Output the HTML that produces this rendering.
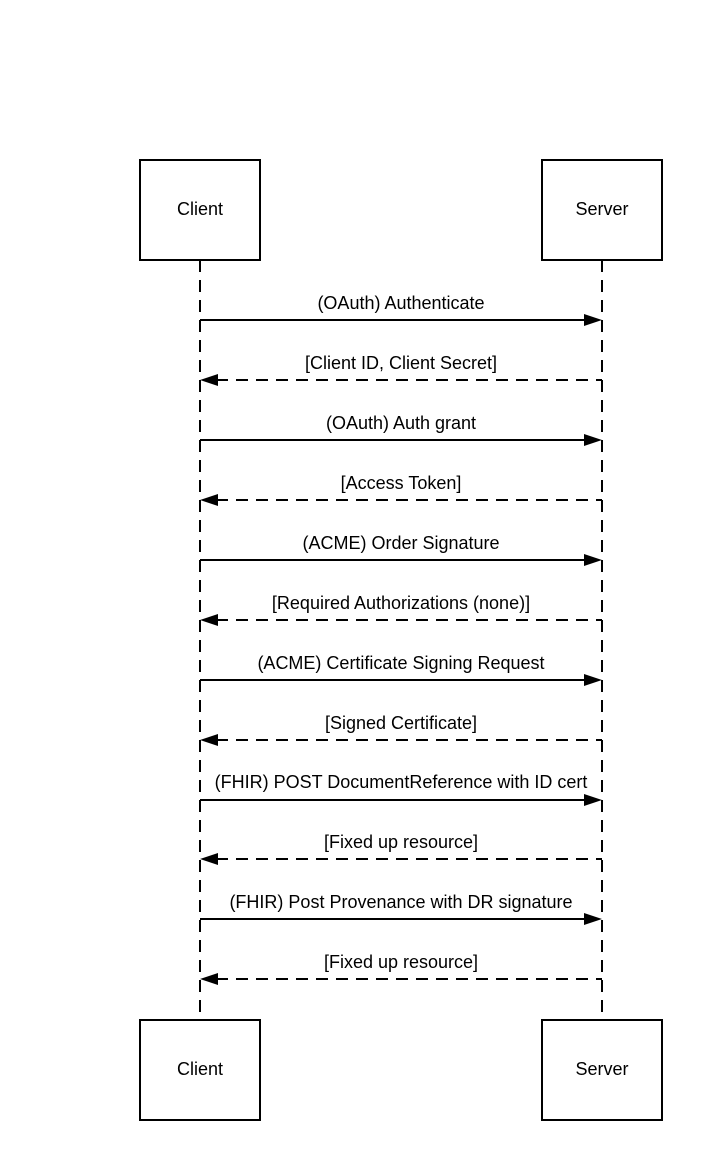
<!DOCTYPE html>
<html><head><style>body{margin:0;background:#fff}</style></head><body>
<svg width="702" height="1160" xmlns="http://www.w3.org/2000/svg" font-family="Liberation Sans, sans-serif" font-size="18">
<rect width="702" height="1160" fill="#fff"/>
<g stroke="#000" stroke-width="2" fill="#fff">
<line x1="200" y1="260" x2="200" y2="1020" stroke-dasharray="12,8"/>
<line x1="602" y1="260" x2="602" y2="1020" stroke-dasharray="12,8"/>
<rect x="140" y="160" width="120" height="100"/>
<rect x="542" y="160" width="120" height="100"/>
<rect x="140" y="1020" width="120" height="100"/>
<rect x="542" y="1020" width="120" height="100"/>
</g>
<g text-anchor="middle" fill="#000">
<text x="200" y="215">Client</text><text x="602" y="215">Server</text>
<text x="200" y="1075">Client</text><text x="602" y="1075">Server</text>
</g>
<g stroke="#000" stroke-width="2">
<line x1="200" y1="320" x2="586" y2="320"/>
<line x1="216" y1="380" x2="602" y2="380" stroke-dasharray="12,8"/>
<line x1="200" y1="440" x2="586" y2="440"/>
<line x1="216" y1="500" x2="602" y2="500" stroke-dasharray="12,8"/>
<line x1="200" y1="560" x2="586" y2="560"/>
<line x1="216" y1="620" x2="602" y2="620" stroke-dasharray="12,8"/>
<line x1="200" y1="680" x2="586" y2="680"/>
<line x1="216" y1="740" x2="602" y2="740" stroke-dasharray="12,8"/>
<line x1="200" y1="800" x2="586" y2="800"/>
<line x1="216" y1="859" x2="602" y2="859" stroke-dasharray="12,8"/>
<line x1="200" y1="919" x2="586" y2="919"/>
<line x1="216" y1="979" x2="602" y2="979" stroke-dasharray="12,8"/>
</g>
<g fill="#000">
<polygon points="602,320 584,314 584,326"/>
<polygon points="200,380 218,374 218,386"/>
<polygon points="602,440 584,434 584,446"/>
<polygon points="200,500 218,494 218,506"/>
<polygon points="602,560 584,554 584,566"/>
<polygon points="200,620 218,614 218,626"/>
<polygon points="602,680 584,674 584,686"/>
<polygon points="200,740 218,734 218,746"/>
<polygon points="602,800 584,794 584,806"/>
<polygon points="200,859 218,853 218,865"/>
<polygon points="602,919 584,913 584,925"/>
<polygon points="200,979 218,973 218,985"/>
</g>
<g text-anchor="middle" fill="#000">
<text x="401" y="309">(OAuth) Authenticate</text>
<text x="401" y="369">[Client ID, Client Secret]</text>
<text x="401" y="429">(OAuth) Auth grant</text>
<text x="401" y="489">[Access Token]</text>
<text x="401" y="549">(ACME) Order Signature</text>
<text x="401" y="609">[Required Authorizations (none)]</text>
<text x="401" y="669">(ACME) Certificate Signing Request</text>
<text x="401" y="729">[Signed Certificate]</text>
<text x="401" y="788">(FHIR) POST DocumentReference with ID cert</text>
<text x="401" y="848">[Fixed up resource]</text>
<text x="401" y="908">(FHIR) Post Provenance with DR signature</text>
<text x="401" y="968">[Fixed up resource]</text>
</g>
</svg>
</body></html>
